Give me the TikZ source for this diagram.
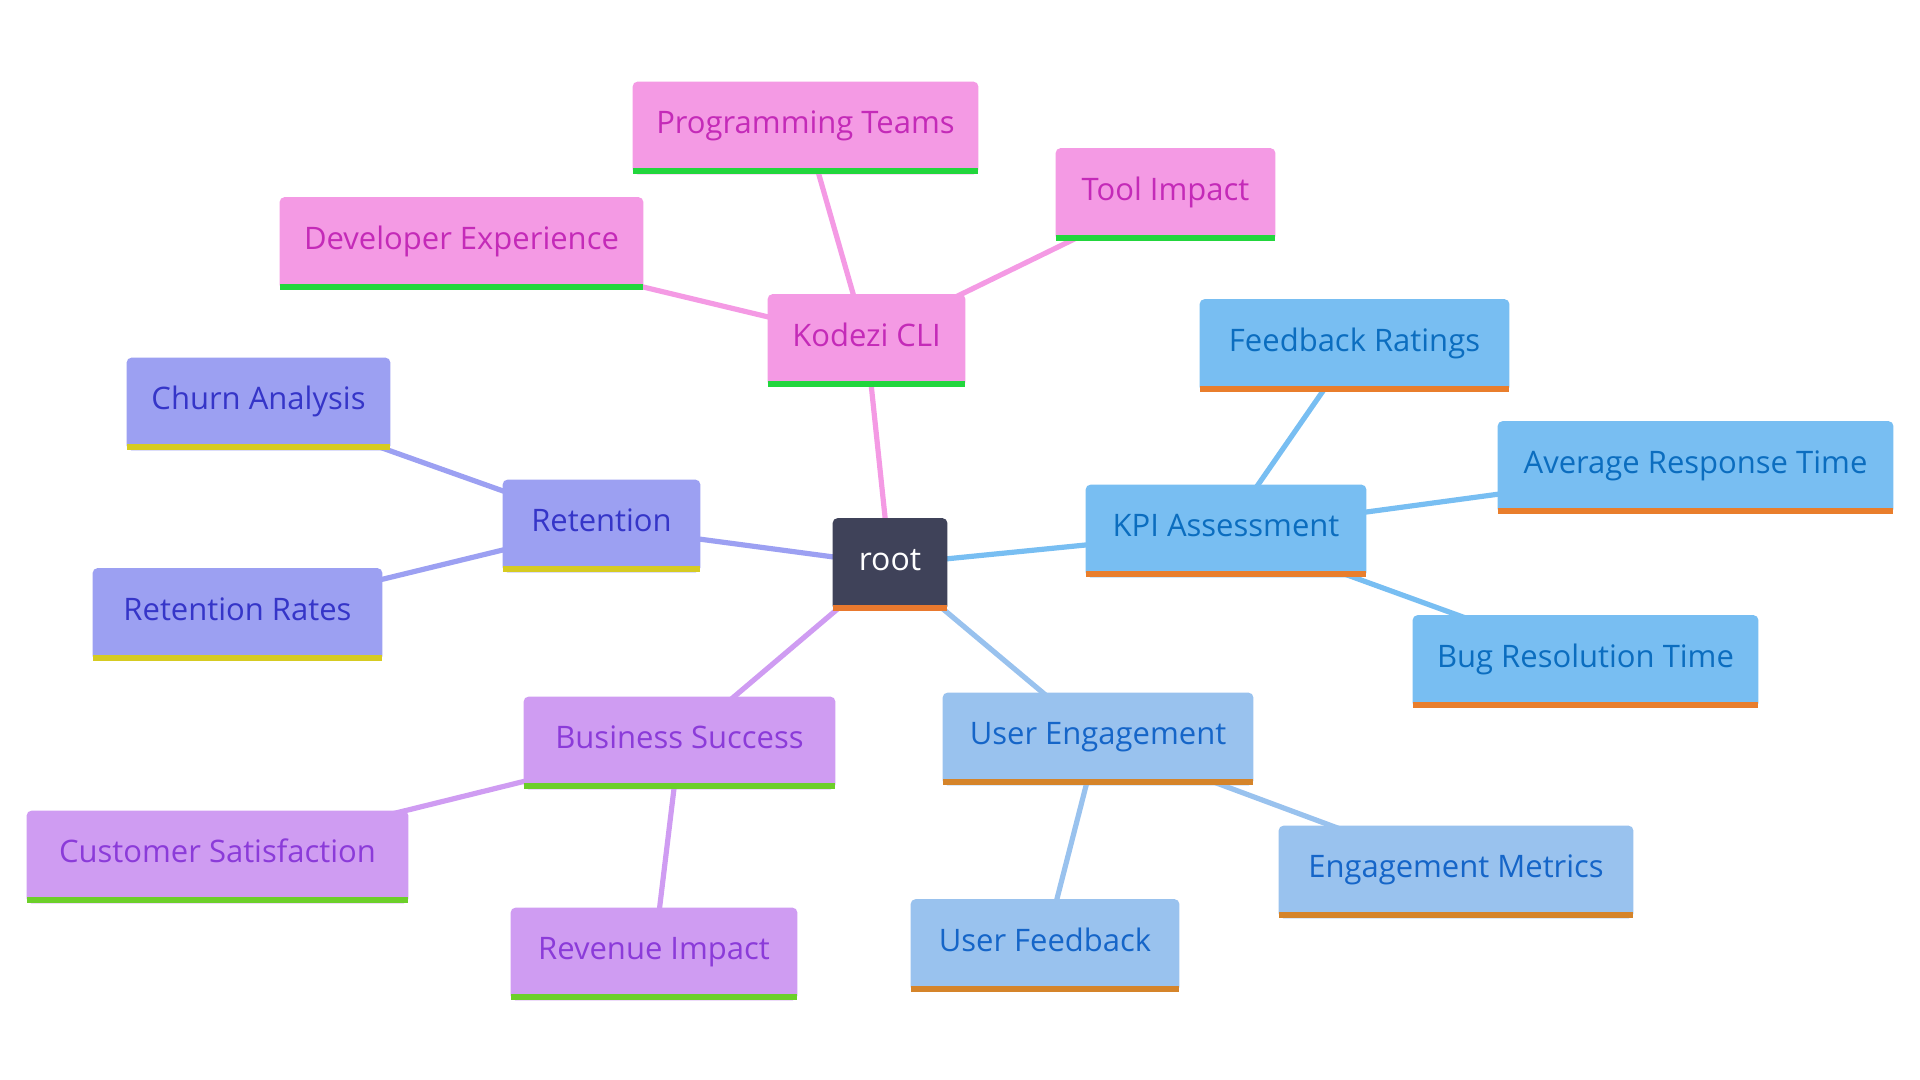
\documentclass[tikz,border=0pt]{standalone}
\usepackage{fontspec}
\setmainfont{Open Sans}
\usetikzlibrary{backgrounds}
\definecolor{rootfill}{HTML}{3F4259}
\definecolor{rootstripe}{HTML}{E9792E}
\definecolor{pinkfill}{HTML}{F49AE4}
\definecolor{pinktext}{HTML}{C42AB8}
\definecolor{pinkstripe}{HTML}{22D63D}
\definecolor{kpifill}{HTML}{78BEF2}
\definecolor{kpitext}{HTML}{0B6DBF}
\definecolor{kpistripe}{HTML}{E97E2C}
\definecolor{uefill}{HTML}{99C2EE}
\definecolor{uetext}{HTML}{1565C8}
\definecolor{uestripe}{HTML}{D5842A}
\definecolor{indfill}{HTML}{9CA0F2}
\definecolor{indtext}{HTML}{3535C8}
\definecolor{indstripe}{HTML}{D6CB22}
\definecolor{purfill}{HTML}{CF9CF2}
\definecolor{purtext}{HTML}{8B3BD9}
\definecolor{purstripe}{HTML}{6CCF2A}
\tikzset{
  mm/.style={rectangle, inner sep=0pt, minimum height=46pt, text height=0.72em, text depth=1.5pt, font=\fontsize{15.5}{18}\selectfont},
  edge/.style={line width=2.6pt},
}
\newcommand\mmbox[3]{%
  \fill[#2, rounded corners=2.5pt] (#1.south west) rectangle (#1.north east);
  \fill[#2] (#1.south west) rectangle ([yshift=6pt]#1.south east);
  \fill[#3] (#1.south west) rectangle ([yshift=3pt]#1.south east);
}
\begin{document}
\begin{tikzpicture}[x=0.5pt,y=-0.5pt]
\useasboundingbox (0,0) rectangle (1920,1080);
% main nodes
\node[mm, minimum width=57pt, text=white, font=\fontsize{16}{20}\selectfont] (root) at (890,564.5) {root};
\node[mm, minimum width=98.5pt, text=pinktext] (kod) at (866.5,340.5) {Kodezi CLI};
\node[mm, minimum width=98.5pt, text=indtext] (ret) at (601.5,526) {Retention};
\node[mm, minimum width=140pt, text=kpitext] (kpi) at (1226,531) {KPI Assessment};
\node[mm, minimum width=155.5pt, text=purtext] (bus) at (679.5,743) {Business Success};
\node[mm, minimum width=155pt, text=uetext] (ue) at (1098,739) {User Engagement};
% leaves
\node[mm, minimum width=172.5pt, text=pinktext] (prog) at (805.5,128) {Programming Teams};
\node[mm, minimum width=109.5pt, text=pinktext] (tool) at (1165.5,194.5) {Tool Impact};
\node[mm, minimum width=181.5pt, text=pinktext] (dev) at (461.5,243.5) {Developer Experience};
\node[mm, minimum width=154.5pt, text=kpitext] (fbr) at (1354.5,345.5) {Feedback Ratings};
\node[mm, minimum width=197.5pt, text=kpitext] (avg) at (1695.5,467.5) {Average Response Time};
\node[mm, minimum width=172.5pt, text=kpitext] (bug) at (1585.5,661.5) {Bug Resolution Time};
\node[mm, minimum width=131.5pt, text=indtext] (churn) at (258.5,404) {Churn Analysis};
\node[mm, minimum width=144.5pt, text=indtext] (rr) at (237.5,614.5) {Retention Rates};
\node[mm, minimum width=190.5pt, text=purtext] (cs) at (217.5,857) {Customer Satisfaction};
\node[mm, minimum width=143pt, text=purtext] (rev) at (654,954) {Revenue Impact};
\node[mm, minimum width=134pt, text=uetext] (uf) at (1045,945.5) {User Feedback};
\node[mm, minimum width=177pt, text=uetext] (em) at (1456,872) {Engagement Metrics};
\begin{scope}[on background layer]
  \draw[edge, pinkfill] (root.center) -- (kod.center);
  \draw[edge, indfill] (root.center) -- (ret.center);
  \draw[edge, kpifill] (root.center) -- (kpi.center);
  \draw[edge, purfill] (root.center) -- (bus.center);
  \draw[edge, uefill] (root.center) -- (ue.center);
  \draw[edge, pinkfill] (kod.center) -- (prog.center);
  \draw[edge, pinkfill] (kod.center) -- (tool.center);
  \draw[edge, pinkfill] (kod.center) -- (dev.center);
  \draw[edge, kpifill] (kpi.center) -- (fbr.center);
  \draw[edge, kpifill] (kpi.center) -- (avg.center);
  \draw[edge, kpifill] (kpi.center) -- (bug.center);
  \draw[edge, indfill] (ret.center) -- (churn.center);
  \draw[edge, indfill] (ret.center) -- (rr.center);
  \draw[edge, purfill] (bus.center) -- (cs.center);
  \draw[edge, purfill] (bus.center) -- (rev.center);
  \draw[edge, uefill] (ue.center) -- (uf.center);
  \draw[edge, uefill] (ue.center) -- (em.center);
  \mmbox{root}{rootfill}{rootstripe}
  \mmbox{kod}{pinkfill}{pinkstripe}
  \mmbox{ret}{indfill}{indstripe}
  \mmbox{kpi}{kpifill}{kpistripe}
  \mmbox{bus}{purfill}{purstripe}
  \mmbox{ue}{uefill}{uestripe}
  \mmbox{prog}{pinkfill}{pinkstripe}
  \mmbox{tool}{pinkfill}{pinkstripe}
  \mmbox{dev}{pinkfill}{pinkstripe}
  \mmbox{fbr}{kpifill}{kpistripe}
  \mmbox{avg}{kpifill}{kpistripe}
  \mmbox{bug}{kpifill}{kpistripe}
  \mmbox{churn}{indfill}{indstripe}
  \mmbox{rr}{indfill}{indstripe}
  \mmbox{cs}{purfill}{purstripe}
  \mmbox{rev}{purfill}{purstripe}
  \mmbox{uf}{uefill}{uestripe}
  \mmbox{em}{uefill}{uestripe}
\end{scope}
\end{tikzpicture}
\end{document}
